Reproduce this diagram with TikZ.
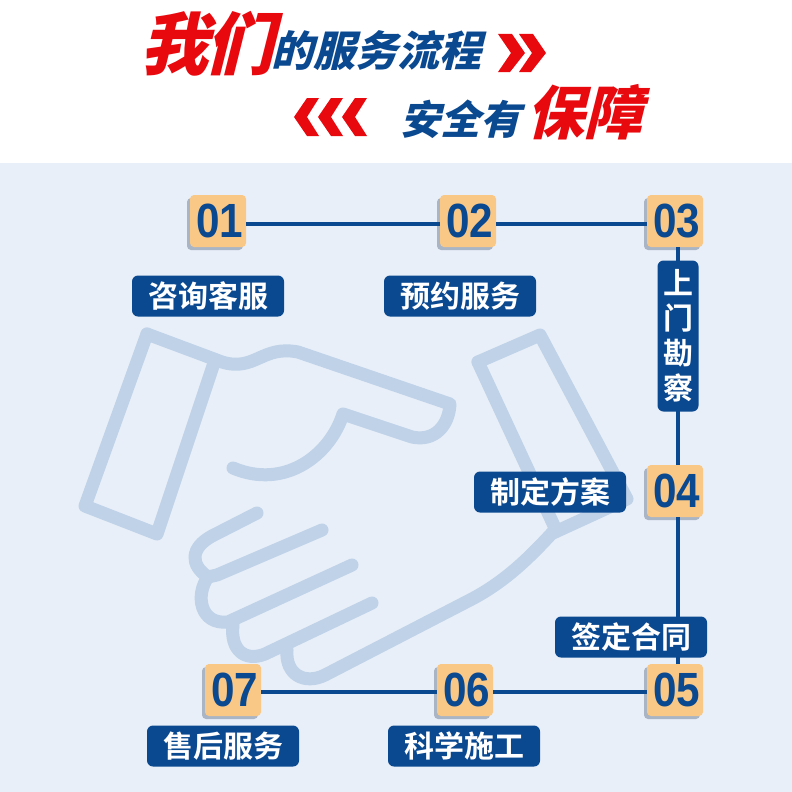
\documentclass[tikz,border=0pt]{standalone}
\usepackage{fontspec}
\newfontfamily\cjkbold{Noto Sans CJK SC Bold}
\newfontfamily\cjkblack{Noto Sans CJK SC Black}
\newfontfamily\numfont[FakeStretch=0.88]{Liberation Sans Bold}
\usetikzlibrary{positioning}
\definecolor{bgblue}{HTML}{E8EFF9}
\definecolor{handblue}{HTML}{BFD2E8}
\definecolor{navy}{HTML}{0A4890}
\definecolor{orangebox}{HTML}{F9C886}
\definecolor{shadowgrey}{HTML}{A9B4C4}
\definecolor{titlered}{HTML}{E8090F}
\newcommand{\numtext}[1]{\kern3pt\raisebox{-1.5pt}{#1}}
\tikzset{
	numbox/.style={fill=orangebox, rounded corners=4pt, minimum width=56pt, minimum height=52pt, inner sep=0pt,
		text=navy, font=\numfont\fontsize{48}{48}\selectfont},
	numshadow/.style={fill=shadowgrey, rounded corners=4pt, minimum width=56pt, minimum height=52pt},
	tagbox/.style={fill=navy, rounded corners=6pt, minimum width=152pt, minimum height=41pt, inner sep=0pt,
		text=white, font=\cjkbold\fontsize{30}{30}\selectfont},
	tagtall/.style={fill=navy, rounded corners=6pt, minimum width=41pt, minimum height=151pt, inner sep=0pt,
		text=white, align=center, font=\cjkbold\fontsize{30}{35}\selectfont},
	flowline/.style={navy, line width=3.5pt},
	handline/.style={handblue, line width=13pt, line cap=round, line join=round},
	titlebig/.style={text=titlered, xslant=0.25, transform shape, inner sep=0pt, font=\cjkblack\fontsize{68}{68}\selectfont},
	titlesmall/.style={text=navy, xslant=0.25, transform shape, inner sep=0pt, font=\cjkblack\fontsize{42}{42}\selectfont},
	chevron/.style={fill=titlered}
}
\begin{document}
\begin{tikzpicture}[x=1pt,y=-1pt]
	\useasboundingbox (0,0) rectangle (792,792);
	\fill[white] (0,0) rectangle (792,163);
	\fill[bgblue] (0,163) rectangle (792,792);
	% Titre
	\node[titlebig] (wo) at (181,44) {我};
	\node[titlebig] (men) at (246,44) {们};
	\node[titlesmall, anchor=west] (line1) at (275,51) {的服务流程};
	\node[titlesmall, anchor=west, font=\cjkblack\fontsize{40}{40}\selectfont] (line2) at (404,119) {安全有};
	\node[titlebig, anchor=west, font=\cjkblack\fontsize{58}{58}\selectfont] (bao) at (532,112) {保障};
	\foreach \x in {0,1} {
		\fill[chevron] (498+\x*21,34) -- (512+\x*21,34) -- (525+\x*21,53) -- (510+\x*21,72) -- (498+\x*21,72) -- (511+\x*21,53) -- cycle;
	}
	\foreach \x in {0,1,2} {
		\fill[chevron] (307+\x*24,98) -- (319+\x*24,98) -- (307+\x*24,117) -- (319+\x*24,136) -- (307+\x*24,136) -- (294+\x*24,117) -- cycle;
	}
	% Main gauche
	\draw[handline] (147,334) -- (85,506) -- (157,534) -- (215,360);
	\draw[handline] (147,334) -- (222,362) .. controls (255,372) and (262,345) .. (298,352) -- (450,404)
		.. controls (449,425) and (435,442) .. (412,437) -- (343,414)
		.. controls (330,455) and (285,490) .. (233,468);
	% Main droite
	\draw[handline] (478,362) -- (540,335) -- (627,499) -- (553,533);
	\draw[handline] (478,362) -- (556,530);
	\draw[handline] (257,513) -- (212,536) .. controls (190,548) and (190,565) .. (208,577) -- (217,575) -- (322,530);
	\draw[handline] (208,577) .. controls (195,595) and (200,625) .. (228,622) -- (352,565);
	\draw[handline] (233,625) .. controls (230,650) and (245,662) .. (265,654) -- (372,603);
	\draw[handline] (287,650) .. controls (285,675) and (305,685) .. (325,675) -- (470,600) .. controls (505,582) and (530,557) .. (553,532);
	% Boites
	\foreach \x/\y in {218/221,468/221,675/221,675/491,675/690,465/690,233/690} {
		\node[numshadow] at (\x-3,\y+3) {};
	}
	\node[numbox] (n01) at (218,221) {\numtext{01}};
	\node[numbox] (n02) at (468,221) {\numtext{02}};
	\node[numbox] (n03) at (675,221) {\numtext{03}};
	\node[numbox] (n04) at (675,491) {\numtext{04}};
	\node[numbox] (n05) at (675,690) {\numtext{05}};
	\node[numbox] (n06) at (465,690) {\numtext{06}};
	\node[numbox] (n07) at (233,690) {\numtext{07}};
	% Liaisons
	\draw[flowline] ([yshift=-3pt]n01.east) -- ([yshift=-3pt]n02.west);
	\draw[flowline] ([yshift=-3pt]n02.east) -- ([yshift=-3pt]n03.west);
	\draw[flowline] ([xshift=3pt]n03.south) -- ([xshift=3pt]n04.north);
	\draw[flowline] ([xshift=3pt]n04.south) -- ([xshift=3pt]n05.north);
	\draw[flowline] ([yshift=-2pt]n05.west) -- ([yshift=-2pt]n06.east);
	\draw[flowline] ([yshift=-2pt]n06.west) -- ([yshift=-2pt]n07.east);
	% Etiquettes
	\node[tagbox] (t1) at (208,296) {咨询客服};
	\node[tagbox] (t2) at (460,296) {预约服务};
	\node[tagtall] (t3) at (678,336) {上\\门\\勘\\察};
	\node[tagbox] (t4) at (550,492) {制定方案};
	\node[tagbox] (t5) at (631,637) {签定合同};
	\node[tagbox] (t7) at (223,746) {售后服务};
	\node[tagbox] (t6) at (464,746) {科学施工};
\end{tikzpicture}
\end{document}
